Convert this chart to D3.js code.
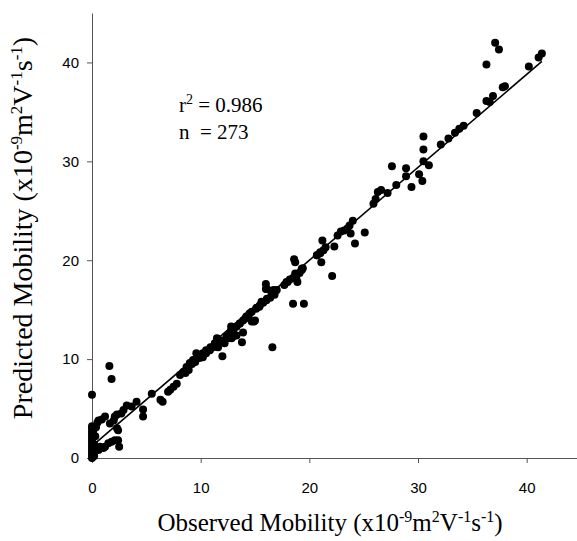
<!DOCTYPE html>
<html>
<head>
<meta charset="utf-8">
<script src="https://cdn.jsdelivr.net/npm/d3@7"></script>
<style>
  body { margin: 0; background: #fff; }
  svg { display: block; }
</style>
</head>
<body>
<div id="root"></div>
<script>
// observed / predicted mobility (x10^-9 m2 V-1 s-1)
const observed = [
  37.1, 37.45, 36.3, 41.4, 41.1, 40.2, 38.0, 37.8, 36.9, 36.3, 36.6, 35.4,
  33.8, 33.4, 32.8, 32.1, 30.5, 30.5, 30.5, 28.9, 28.9, 27.6, 28.0, 29.4,
  30.1, 30.4, 27.2, 26.3, 26.1, 25.9, 24.0, 23.7, 23.5, 23.8, 25.1, 22.6,
  21.2, 24.2, 22.3, 21.5, 21.3, 21.0, 20.7, 21.1, 22.1, 19.4, 19.3, 19.5,
  18.6, 18.7, 19.1, 18.7, 18.9, 18.5, 18.0, 17.7, 18.5, 16.0, 16.0, 17.0,
  16.8, 16.5, 16.1, 15.6, 15.4, 15.1, 16.6, 14.9, 14.5, 14.2, 13.9, 13.6,
  13.3, 13.9, 13.8, 12.8, 12.8, 13.0, 12.5, 12.2, 11.5, 11.3, 11.6, 12.0,
  10.9, 10.5, 10.2, 9.9, 9.6, 9.3, 9.0, 8.7, 8.4, 8.1, 1.6, 1.8,
  9.2, 9.5, 9.9, 10.2, 10.5, 10.85, 11.15, 11.5, 11.8, 12.1, 12.4, 12.7,
  13.0, 13.3, 13.6, 14.1, 14.4, 14.7, 15.15, 15.45, 15.75, 16.05, 16.4, 16.1,
  16.7, 17.9, 18.2, 18.7, 18.8, 19.3, 20.7, 21.0, 12.85, 13.3, 14.7, 15.0,
  0.0, 5.5, 6.3, 6.5, 7.0, 7.2, 7.5, 7.8, 8.6, 8.9, 4.7, 4.7,
  3.65, 4.1, 2.9, 2.7, 2.3, 2.1, 2.0, 1.65, 1.2, 0.6, 0.37, 0.1,
  2.4, 2.3, 2.4, 2.5, 2.1, 1.8, 1.5, 1.2, 1.05, 0.75, 0.6, 0.4,
  0.0, 0.0, 0.0, 0.0, 0.0, 0.0, 0.0, 0.0, 0.0, 0.0, 0.0, 0.0,
  0.2, 0.2, 0.3, 0.1, 0.5, 0.9, 22.9, 23.2, 26.6, 34.2, 31.0, 3.2
];
const predicted = [
  42.0, 41.3, 39.8, 40.9, 40.5, 39.6, 37.6, 37.5, 36.6, 36.1, 36.0, 34.9,
  33.3, 32.9, 32.3, 31.7, 32.5, 31.2, 30.0, 29.3, 28.5, 29.5, 27.6, 27.4,
  28.7, 28.0, 26.8, 26.9, 26.2, 25.7, 24.0, 23.5, 23.2, 22.7, 22.8, 22.5,
  22.0, 21.7, 21.4, 21.3, 21.0, 20.7, 20.5, 19.8, 18.4, 19.2, 19.0, 15.6,
  20.1, 19.8, 18.7, 18.3, 17.8, 18.2, 17.8, 17.5, 15.6, 17.6, 17.1, 17.0,
  16.5, 16.8, 16.1, 15.8, 15.3, 15.1, 11.2, 13.8, 14.6, 14.3, 13.9, 13.6,
  13.3, 12.7, 11.7, 13.3, 12.9, 12.3, 12.1, 11.6, 12.1, 11.6, 11.2, 10.3,
  11.2, 10.9, 10.6, 10.3, 10.6, 9.9, 9.6, 9.2, 8.7, 8.4, 9.3, 8.0,
  9.5, 9.7, 10.1, 10.2, 10.6, 10.9, 11.2, 11.6, 11.75, 11.9, 12.25, 12.6,
  12.9, 13.3, 13.6, 14.1, 14.4, 14.8, 15.2, 15.45, 15.7, 15.95, 16.2, 17.1,
  17.0, 17.8, 18.05, 18.65, 18.15, 19.15, 20.5, 20.8, 12.1, 12.4, 13.8, 13.9,
  6.4, 6.5, 5.9, 5.7, 6.7, 6.9, 7.2, 7.5, 8.6, 8.9, 4.9, 4.2,
  5.2, 5.7, 4.85, 4.5, 4.4, 4.2, 3.8, 3.5, 4.2, 3.8, 3.1, 2.7,
  2.8, 3.0, 1.8, 1.15, 1.8, 1.65, 1.5, 1.15, 1.0, 1.15, 0.8, 1.0,
  0.0, 0.3, 0.6, 0.9, 1.2, 1.5, 1.8, 2.1, 2.4, 2.7, 3.0, 3.2,
  0.2, 1.4, 2.2, 2.9, 3.6, 3.9, 22.9, 23.0, 27.1, 33.6, 29.6, 5.3
];

// fitted line end points
const fitX = [0.1, 41.4];
const fitY = [1.3, 40.1];

const xTicks = [0, 10, 20, 30, 40];
const yTicks = [0, 10, 20, 30, 40];

const width = 577;
const height = 541;

const svg = d3.select('#root').append('svg')
  .attr('width', width)
  .attr('height', height);

const x = d3.scaleLinear().domain([0, 45]).range([92, 581]);
const y = d3.scaleLinear().domain([0, 45]).range([458, 13]);

// axes
const xAxis = svg.append('g')
  .attr('transform', `translate(0, ${y(0)})`)
  .call(d3.axisBottom(x).tickValues(xTicks).tickSize(5).tickSizeOuter(0).tickPadding(19));

const yAxis = svg.append('g')
  .attr('transform', `translate(${x(0)}, 0)`)
  .call(d3.axisLeft(y).tickValues(yTicks).tickSize(5).tickSizeOuter(0).tickPadding(8));

[xAxis, yAxis].forEach((g) => {
  g.select('.domain').attr('stroke', '#555').attr('stroke-width', 1);
  g.selectAll('.tick line').attr('stroke', '#555');
  g.selectAll('.tick text')
    .attr('fill', '#000')
    .style('font-family', '"Liberation Sans", Arial, sans-serif')
    .style('font-size', '15px');
});

// fit line
svg.append('line')
  .attr('x1', x(fitX[0])).attr('y1', y(fitY[0]))
  .attr('x2', x(fitX[1])).attr('y2', y(fitY[1]))
  .attr('stroke', '#000')
  .attr('stroke-width', 1.6);

// points
svg.append('g')
  .selectAll('circle')
  .data(observed)
  .enter()
  .append('circle')
  .attr('cx', (d) => x(d))
  .attr('cy', (d, i) => y(predicted[i]))
  .attr('r', 4)
  .attr('fill', '#000');

// annotation
const serif = '"Liberation Serif", "Times New Roman", serif';
const ann = svg.append('g').style('font-family', serif).style('font-size', '21px');
const r2 = ann.append('text').attr('x', 179).attr('y', 112);
r2.append('tspan').text('r');
r2.append('tspan').attr('dy', -8).style('font-size', '14px').text('2');
r2.append('tspan').attr('dy', 8).text(' = 0.986');
ann.append('text').attr('x', 179).attr('y', 139).attr('xml:space', 'preserve').text('n  = 273');

// axis titles with superscripts
function unitTitle(sel, label, size) {
  const sup = Math.round(size * 0.62) + 'px';
  const up = -Math.round(size * 0.36);
  sel.append('tspan').text(label + ' (x10');
  sel.append('tspan').attr('dy', up).style('font-size', sup).text('-9');
  sel.append('tspan').attr('dy', -up).text('m');
  sel.append('tspan').attr('dy', up).style('font-size', sup).text('2');
  sel.append('tspan').attr('dy', -up).text('V');
  sel.append('tspan').attr('dy', up).style('font-size', sup).text('-1');
  sel.append('tspan').attr('dy', -up).text('s');
  sel.append('tspan').attr('dy', up).style('font-size', sup).text('-1');
  sel.append('tspan').attr('dy', -up).text(')');
}

const xTitle = svg.append('text')
  .attr('x', 330).attr('y', 531)
  .attr('text-anchor', 'middle')
  .style('font-family', serif)
  .style('font-size', '25px');
unitTitle(xTitle, 'Observed Mobility', 25);

const yTitle = svg.append('text')
  .attr('transform', 'translate(32, 228) rotate(-90)')
  .attr('text-anchor', 'middle')
  .style('font-family', serif)
  .style('font-size', '28px');
unitTitle(yTitle, 'Predicted Mobility', 28);
</script>
</body>
</html>
